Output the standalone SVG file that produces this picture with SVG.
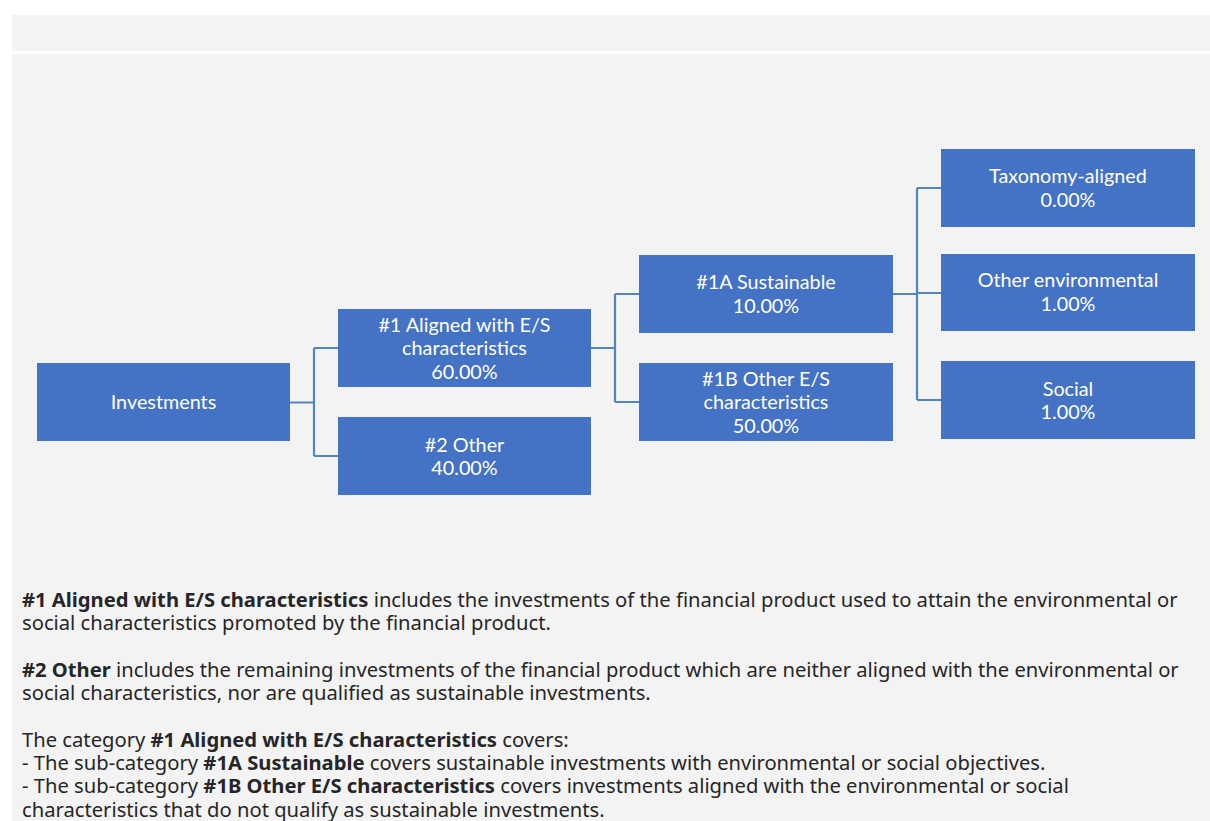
<svg xmlns="http://www.w3.org/2000/svg" width="1210" height="821" viewBox="0 0 1210 821">
<style>
.box{fill:#4472C4;}
.nt{font-family:Lato,"Liberation Sans",sans-serif;font-size:19.8px;fill:#ffffff;text-anchor:middle;}
.conn{fill:none;stroke:#4F86C0;stroke-width:2.2;}
.body{font-family:"Noto Sans","Open Sans",sans-serif;font-size:20.2px;fill:#262626;}
.b{font-weight:bold;}
</style>
<rect x="0" y="0" width="1210" height="821" fill="#ffffff"/>
<rect x="12" y="15" width="1198" height="36" fill="#f3f3f3"/>
<rect x="12" y="54" width="1198" height="767" fill="#f3f3f3"/>
<g id="connectors">
<path class="conn" d="M290,402.5 H314 M314,348 V456 M314,348 H338 M314,456 H338"/>
<path class="conn" d="M591,348 H615 M615,294 V402 M615,294 H639 M615,402 H639"/>
<path class="conn" d="M893,294 H917 M917,188 V400 M917,188 H941 M917,293 H941 M917,400 H941"/>
</g>
<g id="investments"><rect class="box" x="37" y="363" width="253" height="78"/><text class="nt" x="163.5" y="409">Investments</text></g>
<g id="aligned"><rect class="box" x="338" y="309" width="253" height="78"/><text class="nt" x="464.5" y="331.5">#1 Aligned with E/S</text><text class="nt" x="464.5" y="355">characteristics</text><text class="nt" x="464.5" y="378.5">60.00%</text></g>
<g id="other"><rect class="box" x="338" y="417" width="253" height="78"/><text class="nt" x="464.5" y="451.5">#2 Other</text><text class="nt" x="464.5" y="475">40.00%</text></g>
<g id="sustainable"><rect class="box" x="639" y="255" width="254" height="78"/><text class="nt" x="766" y="289">#1A Sustainable</text><text class="nt" x="766" y="312.5">10.00%</text></g>
<g id="other-es"><rect class="box" x="639" y="363" width="254" height="78"/><text class="nt" x="766" y="385.5">#1B Other E/S</text><text class="nt" x="766" y="409">characteristics</text><text class="nt" x="766" y="432.5">50.00%</text></g>
<g id="taxonomy"><rect class="box" x="941" y="149" width="254" height="78"/><text class="nt" x="1068" y="183">Taxonomy-aligned</text><text class="nt" x="1068" y="206.5">0.00%</text></g>
<g id="other-env"><rect class="box" x="941" y="254" width="254" height="77"/><text class="nt" x="1068" y="287">Other environmental</text><text class="nt" x="1068" y="310.5">1.00%</text></g>
<g id="social"><rect class="box" x="941" y="361" width="254" height="78"/><text class="nt" x="1068" y="395.5">Social</text><text class="nt" x="1068" y="419">1.00%</text></g>
<g id="notes">
<text class="body" x="22" y="607"><tspan class="b">#1 Aligned with E/S characteristics</tspan> includes the investments of the financial product used to attain the environmental or</text>
<text class="body" x="22" y="630.3">social characteristics promoted by the financial product.</text>
<text class="body" x="22" y="676.9"><tspan class="b">#2 Other</tspan> includes the remaining investments of the financial product which are neither aligned with the environmental or</text>
<text class="body" x="22" y="700.2">social characteristics, nor are qualified as sustainable investments.</text>
<text class="body" x="22" y="746.8">The category <tspan class="b">#1 Aligned with E/S characteristics</tspan> covers:</text>
<text class="body" x="22" y="770.1">- The sub-category <tspan class="b">#1A Sustainable</tspan> covers sustainable investments with environmental or social objectives.</text>
<text class="body" x="22" y="793.4">- The sub-category <tspan class="b">#1B Other E/S characteristics</tspan> covers investments aligned with the environmental or social</text>
<text class="body" x="22" y="816.7">characteristics that do not qualify as sustainable investments.</text>
</g>
</svg>
